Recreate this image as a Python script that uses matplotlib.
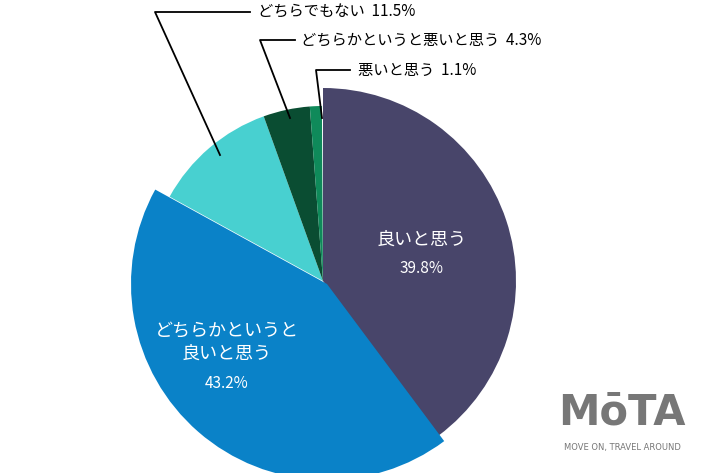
import numpy as np
import matplotlib
matplotlib.use("Agg")
import matplotlib.pyplot as plt
from matplotlib.patches import Wedge

plt.rcParams["font.family"] = ["Noto Sans CJK JP", "DejaVu Sans"]

labels = ["良いと思う", "どちらかというと\n良いと思う", "どちらでもない", "どちらかというと悪いと思う", "悪いと思う"]
values = [39.8, 43.2, 11.5, 4.3, 1.1]
colors = ["#48456a", "#0a82c8", "#48d0d0", "#0a4d32", "#0f8a5a"]
radii = [193, 196, 175, 175, 175]
shifts = [(0, 0), (4, 3), (0, 0), (0, 0), (0, 0)]

fig = plt.figure(figsize=(7.10, 4.73), dpi=100)
ax = fig.add_axes([0, 0, 1, 1])
ax.set_xlim(0, 710)
ax.set_ylim(473, 0)
ax.axis("off")

cx, cy = 323, 281
start = 90.0
for v, c, r, (dx, dy) in zip(values, colors, radii, shifts):
    end = start - v * 3.6
    # y axis inverted, so flip angles
    ax.add_patch(Wedge((cx + dx, cy + dy), r, -start, -end, facecolor=c, edgecolor="none"))
    start = end

# inner labels
ax.text(422, 240, labels[0], color="white", fontsize=13, ha="center", va="center")
ax.text(422, 268, f"{values[0]}%", color="white", fontsize=11, ha="center", va="center")
ax.text(227, 342, labels[1], color="white", fontsize=13, ha="center", va="center", linespacing=1.4)
ax.text(227, 383, f"{values[1]}%", color="white", fontsize=11, ha="center", va="center")

# leader lines and outer labels
leaders = [
    ([220, 155, 250], [155, 12, 12], 258, 12, 2),
    ([290, 260, 295], [118, 40, 40], 301, 40, 3),
    ([322, 316, 350], [118, 70, 70], 358, 70, 4),
]
for xs, ys, tx, ty, i in leaders:
    ax.plot(xs, ys, color="black", lw=1.3)
    ax.text(tx, ty, f"{labels[i]}  {values[i]}%", fontsize=11, ha="left", va="center")

# logo
ax.text(622, 412, "MōTA", color="#777777", fontsize=30, fontweight="bold",
        ha="center", va="center", family=["DejaVu Sans"])
ax.text(622, 447, "MOVE ON, TRAVEL AROUND", color="#777777", fontsize=6,
        ha="center", va="center", family=["DejaVu Sans"])

fig.savefig("out.png", dpi=100)
